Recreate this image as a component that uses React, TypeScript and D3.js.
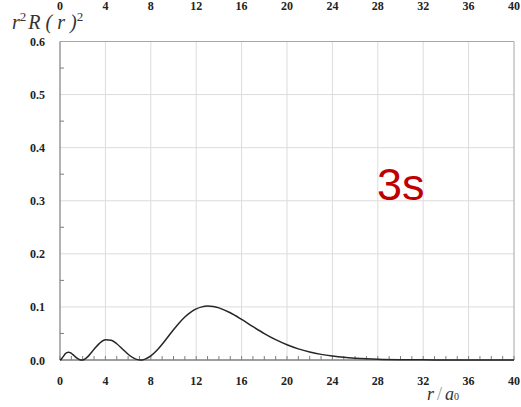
import React from 'react';
import * as d3 from 'd3';

// r / a0 sample positions and the read-off r^2 R(r)^2 values
const rValues = [
  0, 0.1, 0.25, 0.5, 0.6, 0.75, 0.9, 1, 1.25, 1.5, 1.75, 1.9, 2, 2.25, 2.5, 3, 3.5, 4, 4.5, 5, 5.5, 6,
  6.5, 6.75, 7.1, 7.25, 7.5, 8, 8.5, 9, 9.5, 10, 10.5, 11, 11.5, 12, 12.5, 13, 13.5, 14, 15, 16, 17,
  18, 19, 20, 21, 22, 23, 24, 25, 26, 27, 28, 30, 32, 34, 36, 38, 40,
];
const densityValues = [
  0, 0.0012, 0.0055, 0.0125, 0.014, 0.0148, 0.0139, 0.0126, 0.008, 0.0034, 0.0005, 0, 0.0002, 0.0026,
  0.0073, 0.0201, 0.0319, 0.0382, 0.0373, 0.0306, 0.0208, 0.0109, 0.0034, 0.0012, 0, 0.0002, 0.0016,
  0.0076, 0.0174, 0.0297, 0.0434, 0.0571, 0.0699, 0.081, 0.0898, 0.0962, 0.1001, 0.1015, 0.1008,
  0.0982, 0.089, 0.0764, 0.0628, 0.0498, 0.0383, 0.0287, 0.021, 0.0151, 0.0106, 0.0074, 0.005,
  0.0034, 0.0023, 0.0015, 0.0006, 0.0003, 0.0001, 0, 0, 0,
];
const xTicks = [0, 4, 8, 12, 16, 20, 24, 28, 32, 36, 40];
const yTicks = [0, 0.1, 0.2, 0.3, 0.4, 0.5, 0.6];

const W = 521;
const H = 407;
const serif = '"Liberation Serif", "Times New Roman", serif';

export default function App() {
  const x = d3.scaleLinear().domain([0, 40]).range([60, 514]);
  const y = d3.scaleLinear().domain([0, 0.6]).range([360, 41.5]);

  const points: [number, number][] = rValues.map((r, i) => [r, densityValues[i]]);
  const line = d3
    .line<[number, number]>()
    .x((d) => x(d[0]))
    .y((d) => y(d[1]))
    .curve(d3.curveMonotoneX);

  const minorX = d3.range(0, 41, 1);
  const minorY = d3.range(0.05, 0.6, 0.1);

  return (
    <svg width={W} height={H} style={{ position: 'absolute', left: 0, top: 0 }}>
      <rect width={W} height={H} fill="#fff" />

      {/* grid */}
      {xTicks.slice(1, -1).map((t) => (
        <line key={'gx' + t} x1={x(t)} x2={x(t)} y1={y(0.6)} y2={y(0)} stroke="#dcdcdc" strokeWidth={1} />
      ))}
      {yTicks.slice(1, -1).map((t) => (
        <line key={'gy' + t} x1={x(0)} x2={x(40)} y1={y(t)} y2={y(t)} stroke="#dcdcdc" strokeWidth={1} />
      ))}

      {/* frame */}
      <line x1={x(0)} x2={x(40)} y1={y(0.6)} y2={y(0.6)} stroke="#a6a6a6" />
      <line x1={x(40)} x2={x(40)} y1={y(0.6)} y2={y(0)} stroke="#a6a6a6" />
      <line x1={x(0)} x2={x(0)} y1={y(0.6)} y2={y(0)} stroke="#7f7f7f" strokeWidth={1.2} />
      <line x1={x(0)} x2={x(40)} y1={y(0)} y2={y(0)} stroke="#7f7f7f" strokeWidth={1.5} />

      {/* minor ticks */}
      {minorX.map((t) => (
        <line key={'mx' + t} x1={x(t)} x2={x(t)} y1={y(0)} y2={y(0) - 4} stroke="#7f7f7f" />
      ))}
      {minorY.map((t) => (
        <line key={'my' + t} x1={x(0)} x2={x(0) + 4} y1={y(t)} y2={y(t)} stroke="#7f7f7f" />
      ))}

      {/* curve */}
      <path d={line(points) ?? ''} fill="none" stroke="#262626" strokeWidth={1.5} />

      {/* tick labels */}
      {xTicks.map((t) => (
        <text key={'tt' + t} x={x(t)} y={10} textAnchor="middle" fontFamily={serif} fontWeight="bold" fontSize={12} fill="#222">
          {t}
        </text>
      ))}
      {xTicks.map((t) => (
        <text key={'bt' + t} x={x(t)} y={385} textAnchor="middle" fontFamily={serif} fontWeight="bold" fontSize={12} fill="#222">
          {t}
        </text>
      ))}
      {yTicks.map((t) => (
        <text key={'yt' + t} x={45} y={y(t) + 4.5} textAnchor="end" fontFamily={serif} fontWeight="bold" fontSize={12} fill="#222">
          {d3.format('.1f')(t)}
        </text>
      ))}

      {/* axis titles */}
      <text x={12} y={29} fontFamily={serif} fontStyle="italic" fontSize={20} fill="#333">
        r
        <tspan fontStyle="normal" fontSize={13} dy={-8}>2</tspan>
        <tspan dy={8} dx={2}>R ( r )</tspan>
        <tspan fontStyle="normal" fontSize={13} dy={-8}>2</tspan>
      </text>
      <text x={427} y={400} fontFamily={serif} fontStyle="italic" fontSize={18} fill="#333">
        r
        <tspan fontStyle="normal" fill="#999" dx={3}>/</tspan>
        <tspan dx={3}>a</tspan>
        <tspan fontStyle="normal" fontSize={10}>0</tspan>
      </text>

      <text x={377} y={200} fontFamily='"Liberation Sans", Arial, sans-serif' fontSize={45} fill="#c00000">
        3s
      </text>
    </svg>
  );
}
